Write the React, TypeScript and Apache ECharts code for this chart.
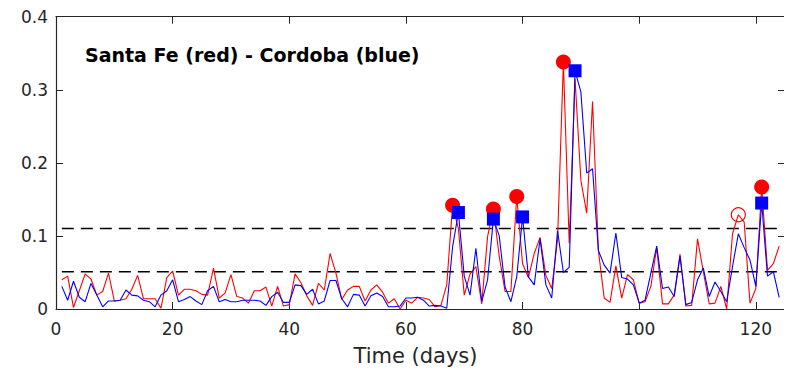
import React, { useEffect, useRef } from "react";
import * as echarts from "echarts";

// Daily values, day 1 .. 124
const santaFe = [
  0.040, 0.045, 0.002, 0.025, 0.048, 0.041, 0.019, 0.024, 0.049, 0.011,
  0.012, 0.014, 0.027, 0.046, 0.014, 0.014, 0.014, 0.001, 0.043, 0.052,
  0.019, 0.027, 0.027, 0.025, 0.020, 0.019, 0.056, 0.015, 0.022, 0.047,
  0.017, 0.015, 0.008, 0.025, 0.025, 0.030, 0.004, 0.031, 0.004, 0.006,
  0.048, 0.036, 0.018, 0.005, 0.035, 0.026, 0.076, 0.049, 0.013, 0.026,
  0.031, 0.031, 0.011, 0.026, 0.033, 0.023, 0.008, 0.014, 0.000, 0.012,
  0.008, 0.016, 0.015, 0.013, 0.003, 0.005, 0.033, 0.142, 0.110, 0.019,
  0.048, 0.058, 0.007, 0.099, 0.137, 0.072, 0.024, 0.024, 0.154, 0.062,
  0.043, 0.076, 0.098, 0.046, 0.028, 0.095, 0.338, 0.090, 0.315, 0.176,
  0.131, 0.284, 0.080, 0.015, 0.009, 0.059, 0.015, 0.047, 0.040, 0.008,
  0.010, 0.031, 0.084, 0.007, 0.007, 0.019, 0.075, 0.004, 0.005, 0.096,
  0.051, 0.007, 0.008, 0.031, 0.000, 0.103, 0.129, 0.119, 0.008, 0.028,
  0.167, 0.053, 0.062, 0.086,
];

const cordoba = [
  0.031, 0.012, 0.038, 0.016, 0.010, 0.035, 0.019, 0.003, 0.011, 0.011,
  0.012, 0.026, 0.019, 0.018, 0.012, 0.010, 0.003, 0.019, 0.025, 0.040,
  0.010, 0.013, 0.017, 0.011, 0.006, 0.025, 0.031, 0.010, 0.013, 0.010,
  0.010, 0.012, 0.012, 0.012, 0.011, 0.005, 0.017, 0.023, 0.009, 0.009,
  0.033, 0.032, 0.020, 0.027, 0.007, 0.011, 0.039, 0.039, 0.014, 0.003,
  0.020, 0.019, 0.004, 0.018, 0.022, 0.017, 0.003, 0.003, 0.004, 0.015,
  0.015, 0.016, 0.012, 0.004, 0.005, 0.004, 0.001, 0.085, 0.132, 0.045,
  0.019, 0.083, 0.010, 0.040, 0.123, 0.100, 0.030, 0.010, 0.044, 0.126,
  0.044, 0.033, 0.096, 0.033, 0.015, 0.107, 0.050, 0.057, 0.326, 0.297,
  0.186, 0.192, 0.080, 0.060, 0.049, 0.104, 0.043, 0.041, 0.033, 0.008,
  0.012, 0.049, 0.086, 0.028, 0.030, 0.017, 0.072, 0.006, 0.009, 0.040,
  0.056, 0.017, 0.037, 0.024, 0.010, 0.058, 0.103, 0.084, 0.067, 0.031,
  0.145, 0.045, 0.051, 0.016,
];

const redPeakDays = [68, 75, 79, 87, 121];
const redHollowDays = [117];
const bluePeakDays = [69, 75, 80, 89, 121];

const thresholdHigh = 0.11;
const thresholdLow = 0.051;
const thresholdSpan = [1, 124];

const xTicks = [0, 20, 40, 60, 80, 100, 120];
const titleText = "Santa Fe (red) - Cordoba (blue)";
const xName = "Time (days)";

const FONT = "'DejaVu Sans', Verdana, sans-serif";
const AX = "#262626";

export default function App() {
  const ref = useRef<HTMLDivElement>(null);
  useEffect(() => {
    if (!ref.current) return;
    const chart = echarts.init(ref.current, undefined, { renderer: "svg" });
    const toPairs = (arr: number[]) => arr.map((v, i) => [i + 1, v]);
    const pick = (arr: number[], days: number[]) => days.map((d) => [d, arr[d - 1]]);
    const tickStyle = { show: true, inside: true, length: 7, lineStyle: { color: AX, width: 1 } };
    const axisLine = { show: true, onZero: false, lineStyle: { color: AX, width: 1.2 } };
    chart.setOption({
      animation: false,
      backgroundColor: "#ffffff",
      title: {
        text: titleText,
        left: 80,
        top: 40,
        textStyle: { fontFamily: FONT, fontSize: 19, fontWeight: "bold", color: "#000" },
      },
      grid: { left: 56, right: 7, top: 16.7, bottom: 66, containLabel: false },
      xAxis: [
        {
          type: "value",
          min: 0,
          max: 125,
          interval: 20,
          position: "bottom",
          axisLine,
          axisTick: { ...tickStyle, customValues: xTicks },
          splitLine: { show: false },
          axisLabel: {
            margin: 11,
            color: AX,
            fontFamily: FONT,
            fontSize: 17,
            customValues: xTicks,
          },
          name: xName,
          nameLocation: "middle",
          nameGap: 36,
          nameTextStyle: { color: AX, fontFamily: FONT, fontSize: 21, padding: [0, 10, 0, 0] },
        },
        {
          type: "value",
          min: 0,
          max: 125,
          interval: 20,
          position: "top",
          axisLine,
          axisTick: { ...tickStyle, customValues: xTicks },
          splitLine: { show: false },
          axisLabel: { show: false },
        },
      ],
      yAxis: [
        {
          type: "value",
          min: 0,
          max: 0.4,
          interval: 0.1,
          position: "left",
          axisLine,
          axisTick: tickStyle,
          splitLine: { show: false },
          axisLabel: {
            margin: 8,
            color: AX,
            fontFamily: FONT,
            fontSize: 17,
            formatter: (v: number) => (Math.round(v * 10) / 10).toString(),
          },
        },
        {
          type: "value",
          min: 0,
          max: 0.4,
          interval: 0.1,
          position: "right",
          axisLine,
          axisTick: tickStyle,
          splitLine: { show: false },
          axisLabel: { show: false },
        },
      ],
      series: [
        {
          type: "line",
          data: thresholdSpan.map((d) => [d, thresholdHigh]),
          showSymbol: false,
          lineStyle: { color: "#000", width: 1.5, type: [12, 7] },
          z: 1,
        },
        {
          type: "line",
          data: thresholdSpan.map((d) => [d, thresholdLow]),
          showSymbol: false,
          lineStyle: { color: "#000", width: 1.5, type: [12, 7] },
          z: 1,
        },
        {
          name: "Santa Fe",
          type: "line",
          data: toPairs(santaFe),
          showSymbol: false,
          lineStyle: { color: "#ff0000", width: 1.1 },
          z: 2,
        },
        {
          name: "Cordoba",
          type: "line",
          data: toPairs(cordoba),
          showSymbol: false,
          lineStyle: { color: "#0000ff", width: 1.1 },
          z: 3,
        },
        {
          type: "scatter",
          data: pick(santaFe, redPeakDays),
          symbol: "circle",
          symbolSize: 15,
          itemStyle: { color: "#ff0000", opacity: 1 },
          z: 4,
        },
        {
          type: "scatter",
          data: pick(santaFe, redHollowDays),
          symbol: "circle",
          symbolSize: 14,
          itemStyle: { color: "rgba(0,0,0,0)", borderColor: "#ff0000", borderWidth: 1.2, opacity: 1 },
          z: 4,
        },
        {
          type: "scatter",
          data: pick(cordoba, bluePeakDays),
          symbol: "rect",
          symbolSize: 13,
          itemStyle: { color: "#0000ff", opacity: 1 },
          z: 5,
        },
      ],
    });
    return () => chart.dispose();
  }, []);
  return <div ref={ref} style={{ width: 792, height: 375, margin: -8 }} />;
}
